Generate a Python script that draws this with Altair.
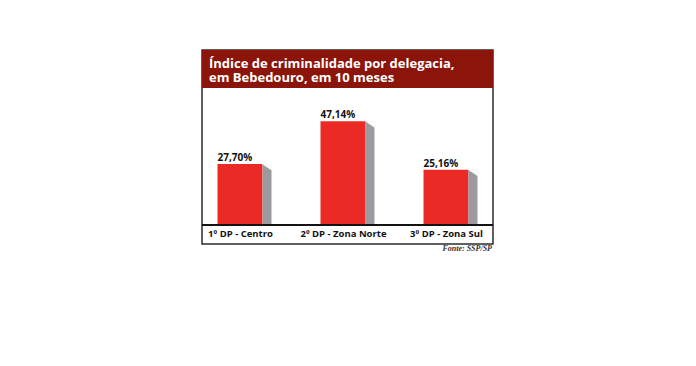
import altair as alt
import pandas as pd

# ---- data ----
categories = ["1º DP - Centro", "2º DP - Zona Norte", "3º DP - Zona Sul"]
values = [27.70, 47.14, 25.16]
value_labels = ["27,70%", "47,14%", "25,16%"]
title_lines = ["Índice de criminalidade por delegacia,", "em Bebedouro, em 10 meses"]
source_note = "Fonte: SSP/SP"

df = pd.DataFrame({"delegacia": categories, "indice": values, "rotulo": value_labels})

W, H = 291, 194
RED = "#ec2a25"
GRAY = "#9b9b9f"
BAND = "#8b150b"
FONT = "Open Sans"

x_enc = alt.X(
    "delegacia:N",
    sort=categories,
    scale=alt.Scale(type="point", range=[38, 244], padding=0),
    axis=alt.Axis(
        title=None, orient="bottom", offset=-19, domain=False, ticks=False,
        labelAngle=0, labelFont=FONT, labelFontWeight="bold", labelFontSize=9.5,
        labelColor="#111111", labelPadding=3.5, grid=False,
    ),
)
y_enc = alt.Y("indice:Q", scale=alt.Scale(domain=[-8.64, 79.55], nice=False, zero=False), axis=None)

base = alt.Chart(df)

bars = base.mark_bar(size=45, color=RED).encode(x=x_enc, y=y_enc, y2=alt.datum(0))
shadow = base.mark_bar(size=9, xOffset=27, color=GRAY).encode(x=x_enc, y=y_enc, y2=alt.datum(0))
cut = base.mark_point(
    shape="M -1 -0.667 L 1 -0.667 L 1 0.667 Z", size=81, filled=True,
    fill="white", stroke="white", strokeWidth=0.6, opacity=1, xOffset=27, yOffset=3,
).encode(x=x_enc, y=y_enc)
labels = base.mark_text(
    align="left", baseline="alphabetic", dx=-22.5, dy=-3,
    font=FONT, fontWeight="bold", fontSize=10, color="#111111",
).encode(x=x_enc, y=y_enc, text="rotulo:N")
baseline = base.mark_rule(color="#111111", strokeWidth=1.5).encode(y=alt.datum(0))

one = alt.Data(values=[{}])
band = alt.Chart(one).mark_rect(color=BAND).encode(
    x=alt.value(0), x2=alt.value(W), y=alt.value(0), y2=alt.value(38)
)
title_style = dict(align="left", baseline="alphabetic", font=FONT, fontWeight="bold",
                   fontSize=13, color="white")
title1 = alt.Chart(one).mark_text(**title_style).encode(
    x=alt.value(7), y=alt.value(18), text=alt.value(title_lines[0]))
title2 = alt.Chart(one).mark_text(**title_style).encode(
    x=alt.value(7), y=alt.value(32), text=alt.value(title_lines[1]))
note = alt.Chart(one).mark_text(
    align="right", baseline="middle", font="Liberation Serif", fontStyle="italic",
    fontWeight="bold", fontSize=8, color="#333333",
).encode(x=alt.value(W - 1), y=alt.value(H + 4.5), text=alt.value(source_note))

chart = (
    alt.layer(band, title1, title2, bars, shadow, cut, labels, baseline, note)
    .properties(
        width=W, height=H,
        autosize=alt.AutoSizeParams(type="none"),
        padding={"left": 202, "top": 50, "right": 203, "bottom": 122},
        background="white",
    )
    .configure_view(stroke="#2b2b2b", strokeWidth=1.5)
)

chart.save("out.html", embed_options={"renderer": "svg", "actions": False})
